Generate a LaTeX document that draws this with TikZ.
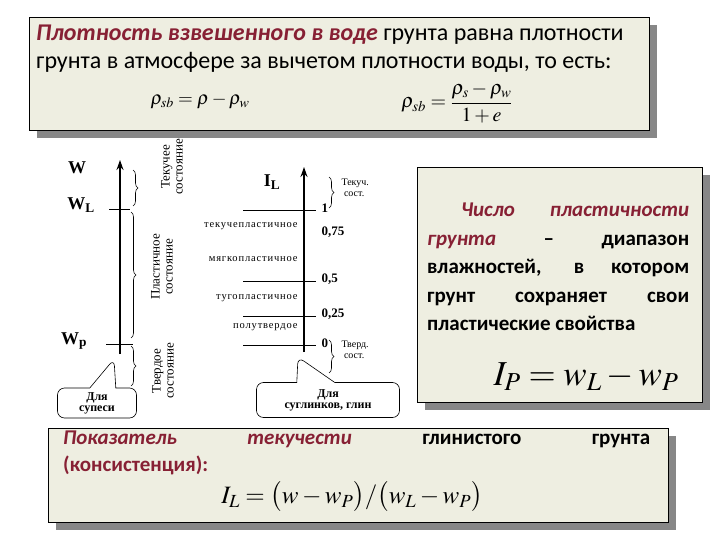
\documentclass[tikz,border=0pt]{standalone}
\usepackage{amsmath}
\usepackage{mathptmx}
\usepackage{fontspec}
\setmainfont{Carlito}
\newfontfamily\serifrm{Liberation Serif}
\usetikzlibrary{arrows.meta,positioning,calc,shadows,shapes.callouts,decorations.pathreplacing}
\definecolor{panelbg}{RGB}{238,238,225}
\definecolor{termred}{RGB}{135,32,52}
\definecolor{shadowgray}{RGB}{135,135,135}
\newcommand{\term}[1]{{\color{termred}\bfseries\itshape #1}}

\begin{document}
\begin{tikzpicture}[x=1pt,y=-1pt,every node/.style={align=center},
  panel/.style={draw=black,line width=1.4pt,fill=panelbg,anchor=north west,inner sep=0pt,
    drop shadow={shadow xshift=7pt,shadow yshift=-7pt,fill=shadowgray,opacity=1}},
  scalearrow/.style={line width=2.6pt,-{Stealth[length=10pt,width=7pt]}},
  tickline/.style={line width=0.9pt},
  bracedec/.style={decorate,decoration={brace,amplitude=5pt},line width=0.6pt},
  wlabel/.style={font=\serifrm\bfseries\fontsize{18}{18}\selectfont},
  numlabel/.style={font=\serifrm\bfseries\fontsize{13}{13}\selectfont,anchor=west},
  statelabel/.style={font=\serifrm\fontsize{10.5}{10.5}\selectfont\addfontfeature{LetterSpace=8},anchor=east},
  sidelabel/.style={font=\serifrm\fontsize{13}{13}\selectfont,rotate=90},
  smalllabel/.style={font=\serifrm\fontsize{10}{11}\selectfont,align=left,anchor=west},
  calloutbox/.style={rectangle callout,draw,rounded corners=7pt,line width=0.6pt,inner sep=0pt,
    font=\serifrm\bfseries\fontsize{12}{11}\selectfont}]
  \useasboundingbox (0,0) rectangle (720,540);

  % top panel: density under water
  \node[panel,minimum width=620pt,minimum height=113pt] (topbox) at (29,17) {};
  \node[anchor=north west,align=left,inner sep=0pt,font=\fontsize{24}{28}\selectfont]
    (toptext) at ([shift={(7,8)}]topbox.north west)
    {\term{Плотность взвешенного в воде} грунта равна плотности\\
     грунта в атмосфере за вычетом плотности воды, то есть:};
  \node[font=\fontsize{19}{19}\selectfont] (rho1) at (200,101) {$\rho_{sb} = \rho - \rho_w$};
  \node[font=\fontsize{20}{20}\selectfont] (rho2) at (457,103) {$\rho_{sb} = \dfrac{\rho_s - \rho_w}{1+e}$};

  % left scale: moisture W
  \coordinate (wbot) at (120,354);
  \coordinate (wtop) at (120,160);
  \coordinate (wlt) at (120,209);
  \coordinate (wpt) at (120,344);
  \draw[scalearrow] (wbot) -- (wtop);
  \draw[tickline] ([xshift=-11pt]wlt) -- ([xshift=10pt]wlt);
  \draw[tickline] ([xshift=-14pt]wpt) -- ([xshift=13pt]wpt);
  \node[wlabel] (w) at (77,168) {W};
  \node[wlabel] (wl) at (81,205) {W\textsubscript{L}};
  \node[wlabel] (wp) at (74,341) {W\textsubscript{p}};
  \draw[bracedec] (133,170) -- (133,206);
  \draw[bracedec] (131,212) -- (131,338);
  \draw[bracedec] (131,346) -- (131,386);
  \node[sidelabel] (fluid) at (172,167) {Текучее\\состояние};
  \node[sidelabel] (plastic) at (162,267) {Пластичное\\состояние};
  \node[sidelabel] (solid) at (163,371) {Твердое\\состояние};
  \node[calloutbox,minimum width=79pt,minimum height=30pt,callout pointer width=26pt,
    callout absolute pointer={(114,359)}] (sandy) at (97,403) {Для\\супеси};

  % middle scale: liquidity index
  \coordinate (ibot) at (304,352);
  \coordinate (itop) at (304,167);
  \draw[scalearrow] (ibot) -- (itop);
  \node[wlabel] (il) at (272,182) {I\textsubscript{L}};
  \foreach \val/\yy in {1/210,{0,5}/281,{0,25}/316,0/345}{
    \draw[tickline] (243,\yy) -- (316,\yy);
    \node[numlabel] at (318,\yy-2) {\val};
  }
  \node[numlabel] (n75) at (318,232) {0,75};
  \foreach \st/\yy in {текучепластичное/226,мягкопластичное/259,тугопластичное/298,полутвердое/327}
    \node[statelabel] at (301,\yy) {\st};
  \draw[bracedec] (329,177) -- (329,208);
  \node[smalllabel] (flu) at (338,188) {Текуч.\\\ сост.};
  \draw[bracedec] (329,340) -- (329,373);
  \node[smalllabel] (sol) at (338,350) {Тверд.\\\ сост.};
  \node[calloutbox,minimum width=143pt,minimum height=35pt,callout pointer width=38pt,
    callout absolute pointer={(298,357)}] (clay) at (328,400) {Для\\суглинков, глин};

  % right panel: plasticity index
  \node[panel,minimum width=285pt,minimum height=235pt] (ipbox) at (417,167) {};
  \node[anchor=north west,text width=262pt,align=justify,inner sep=0pt,
    font=\bfseries\fontsize{21}{28.5}\selectfont]
    (iptext) at ([shift={(10,36)}]ipbox.north west)
    {\hspace*{34pt}\term{Число пластичности}\linebreak
     \term{грунта} – диапазон\linebreak
     влажностей, в котором\linebreak
     грунт сохраняет свои\linebreak
     пластические свойства};
  \node[font=\fontsize{35}{35}\selectfont] (ipform) at (586,377) {$I_P = w_L - w_P$};

  % bottom panel: liquidity index
  \node[panel,minimum width=620pt,minimum height=94pt] (ilbox) at (48,428) {};
  \node[anchor=north west,text width=587pt,align=justify,inner sep=0pt,
    font=\bfseries\fontsize{21}{27}\selectfont]
    (iltext) at ([shift={(15,3)}]ilbox.north west)
    {\term{Показатель текучести} глинистого грунта\linebreak
     {\color{termred}\bfseries(консистенция):}};
  \node[font=\fontsize{25}{25}\selectfont] (ilform) at (352,497)
    {$I_L = \bigl(w - w_P\bigr)/\bigl(w_L - w_P\bigr)$};
\end{tikzpicture}
\end{document}
